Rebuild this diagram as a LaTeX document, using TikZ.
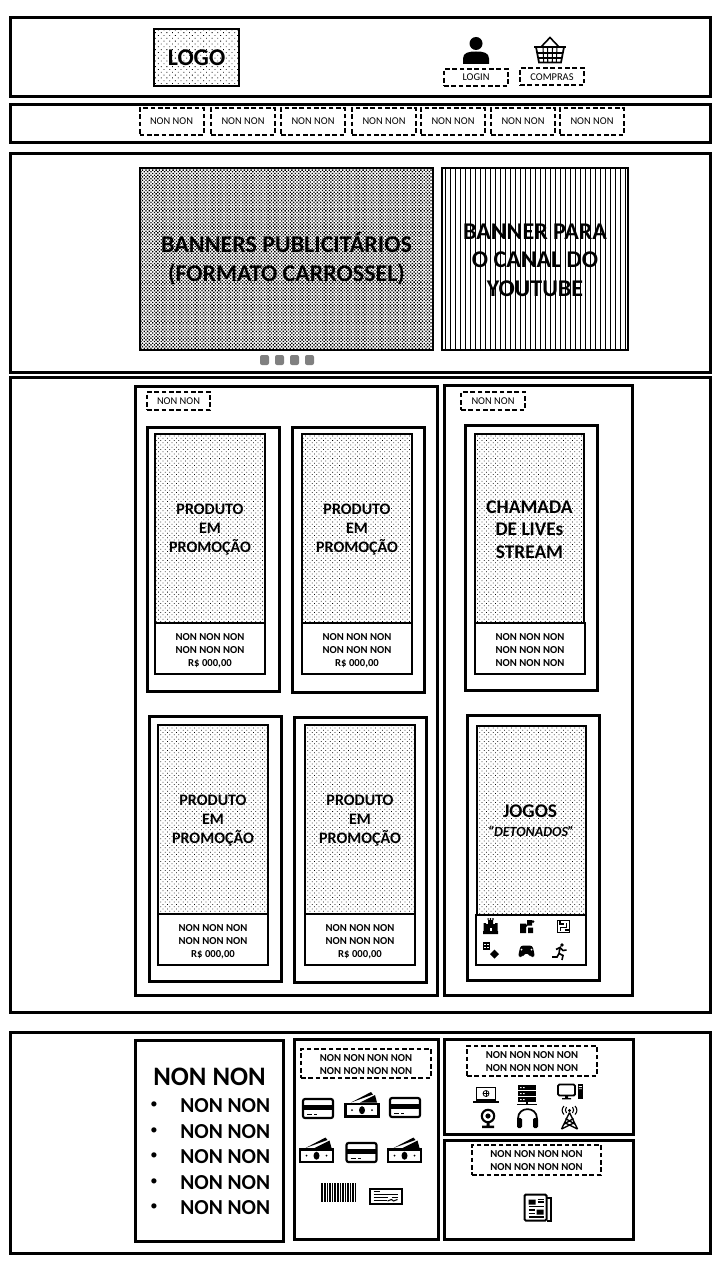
\documentclass[tikz,border=0pt]{standalone}
\usepackage{fontspec}
\setmainfont{Carlito}
\usetikzlibrary{patterns.meta}
\tikzset{
  size/.style 2 args={minimum width=#1*0.75pt, minimum height=#2*0.75pt},
  psize/.style 2 args={minimum width=(#1-1.5)*0.75pt, minimum height=(#2-1.5)*0.75pt},
  pics/person/.style={code={
    \fill (0,-7) circle (6.5);
    \fill (-13,13.5) -- (-13,8) .. controls (-13,2) and (-7,1) .. (0,1) .. controls (7,1) and (13,2) .. (13,8) -- (13,13.5) -- cycle;
  }},
  pics/basket/.style={code={
    \draw[line width=1.2pt] (-9,-3) -- (0,-12.5) -- (9,-3);
    \draw[line width=1.7pt] (-16,-3) -- (16,-3);
    \draw[line width=1.3pt] (-14,-3) -- (-11,12.5) -- (11,12.5) -- (14,-3);
    \draw[line width=.8pt] (-12.8,3) -- (12.8,3) (-11.8,8) -- (11.8,8);
    \foreach \gx in {-7,-2.5,2.5,7} \draw[line width=.8pt] (\gx,-3) -- (\gx*.9,12.5);
  }},
  pics/card/.style={code={
    \draw[line width=1.6pt, rounded corners=1.5pt] (-15,-9.5) rectangle (15,9.5);
    \fill[black] (-15,-4) rectangle (15,1.8);
    \draw[line width=.9pt] (-11,5.8) -- (-6,5.8) (-4,5.8) -- (-1,5.8);
  }},
  pics/bill/.style={code={
    \draw[line width=1.6pt] (-16.5,-1) rectangle (16.5,11.5);
    \fill (0,5.2) ellipse (3 and 4);
    \fill (-10,5.2) circle (1) (10,5.2) circle (1);
    \fill (-11,-2.5) -- (9,-13) -- (11,-10.5) -- cycle;
    \fill (-2,-2.5) -- (13,-10) -- (15,-2.5) -- cycle;
  }},
  pics/barcode/.style={code={
    \foreach \bx/\bw in {-17/2,-14/2,-11/1.2,-9/2,-6/1.2,-4/2,-1/2.2,2/1.2,4/2,7/1.2,9/2.2,12/1.2,14/2,16.5/1.5}
      \fill (\bx,-9.5) rectangle (\bx+\bw,9.5);
  }},
  pics/cheque/.style={code={
    \draw[line width=1.5pt] (-16,-7.5) rectangle (16,7.5);
    \draw[line width=.8pt] (-12,-4.5) -- (-6,-4.5) (-12,-1.5) -- (12,-1.5) (-12,1.5) -- (2,1.5) (-12,4.5) -- (1,4.5) (6,1.5) -- (12,1.5);
    \draw[line width=.8pt] (2,5) -- (6,3.5) -- (8,5) -- (12,3.5);
  }},
  pics/laptop/.style={code={
    \draw[line width=1.1pt] (-9.5,-7.5) rectangle (9.5,5);
    \draw[line width=.6pt] (0,-1.5) circle (3);
    \draw[line width=.4pt] (-3,-1.5) -- (3,-1.5) (0,-4.5) -- (0,1.5);
    \draw[line width=1.2pt] (-13,7.2) -- (13,7.2);
  }},
  pics/server/.style={code={
    \foreach \sy in {-10,-4,2} {
      \fill (-9,\sy) rectangle (9,\sy+5);
      \fill[white] (-7,\sy+2) rectangle (-5.5,\sy+3) (-4,\sy+2) rectangle (-2.5,\sy+3);
    }
    \draw[line width=.8pt] (0,7) -- (0,9.5) (-10,9.5) -- (10,9.5);
  }},
  pics/desktop/.style={code={
    \draw[line width=1.4pt, rounded corners=1pt] (-12,-7) rectangle (5,4);
    \fill (-5,4) rectangle (-2,6.5) (-8,6.5) rectangle (1,7.8);
    \fill (7.5,-7.5) rectangle (13,7.8);
    \fill[white] (8.8,-5.5) rectangle (11.8,-4.7) (8.8,-3.2) rectangle (11.8,-2.4);
  }},
  pics/webcam/.style={code={
    \draw[line width=1.6pt] (0,-2.5) circle (6.2);
    \fill (0,-2.5) circle (2.6);
    \fill (-1.5,3.5) rectangle (1.5,7) (-6,7) rectangle (6,9.5);
  }},
  pics/headset/.style={code={
    \draw[line width=1.3pt] (-9.5,5) -- (-9.5,0) .. controls (-9.5,-12.5) and (9.5,-12.5) .. (9.5,0) -- (9.5,5);
    \fill[rounded corners=1pt] (-10.5,-.5) rectangle (-5.5,9.5) (5.5,-.5) rectangle (10.5,9.5);
  }},
  pics/antenna/.style={code={
    \draw[line width=1pt] (0,-5) -- (-8,11.5) (0,-5) -- (8,11.5) (-6,7) -- (4,1) (6,7) -- (-4,1) (-8,11.5) -- (5,5) (8,11.5) -- (-5,5);
    \fill (0,-7) circle (1.6);
    \draw[line width=.8pt] (-3,-10.5) .. controls (-4.5,-9) and (-4.5,-6) .. (-3,-4.5) (3,-10.5) .. controls (4.5,-9) and (4.5,-6) .. (3,-4.5);
    \draw[line width=.8pt] (-5.5,-11.5) .. controls (-8,-9) and (-8,-5.5) .. (-5.5,-3) (5.5,-11.5) .. controls (8,-9) and (8,-5.5) .. (5.5,-3);
  }},
  pics/newspaper/.style={code={
    \draw[line width=1.5pt, rounded corners=1pt] (-13,-13) rectangle (9,13);
    \draw[line width=1.5pt] (9,-10) -- (13,-10) -- (13,13) -- (9,13);
    \fill (-9,-8) rectangle (-2,-3) (-1,2) rectangle (6,7);
    \draw[line width=.8pt] (0,-8) -- (6,-8) (0,-5.5) -- (6,-5.5) (-9,-1) -- (6,-1) (-9,2.5) -- (-3,2.5) (-9,6) -- (-3,6) (-9,9.5) -- (6,9.5);
  }},
  pics/castle/.style={code={
    \fill (-5,-2) rectangle (5,5) (-2.5,-6) rectangle (2.5,-2);
    \fill (-3,-8) rectangle (-1.8,-6) (-.6,-8) rectangle (.6,-6) (1.8,-8) rectangle (3,-6);
    \fill (-7,-3) rectangle (-4.5,7) (4.5,-3) rectangle (7,7) (-7.5,5) rectangle (7.5,8);
    \fill[white] (-1,2) rectangle (1,5);
  }},
  pics/puzzle/.style={code={
    \fill (-7,-3) rectangle (-1,6.5) (1,1) rectangle (6,6.5) (0,-6.5) rectangle (5,-1);
    \fill (-1,-1) circle (1.5) (6,-5) circle (1.5);
  }},
  pics/maze/.style={code={
    \draw[line width=.9pt] (-6,-6) rectangle (6,6);
    \draw[line width=.8pt] (-3.5,-6) -- (-3.5,-2.5) -- (0,-2.5) (3,-3.5) -- (3,1) -- (-3,1) -- (-3,4) (1,3.5) -- (6,3.5);
  }},
  pics/dice/.style={code={
    \draw[line width=.8pt] (-7.5,-7.5) rectangle (-1.5,-1.5) (-7.5,-4.5) -- (-1.5,-4.5) (-4.5,-7.5) -- (-4.5,-1.5);
    \fill (3.5,-1) -- (8,3.5) -- (3.5,8) -- (-1,3.5) -- cycle;
  }},
  pics/gamepad/.style={code={
    \fill[rounded corners=2pt] (-8.5,6) -- (-6,-5.5) -- (6,-5.5) -- (8.5,6) -- (4,6) -- (2,2.5) -- (-2,2.5) -- (-4,6) -- cycle;
    \fill[white] (-5,-1.5) circle (1) (5,-1.5) circle (1);
  }},
  pics/runner/.style={code={
    \fill (2,-6.5) circle (1.8);
    \draw[line width=1.2pt] (-4,-2) -- (0,-4) -- (-1,2) -- (3,4) -- (2,8.5) (-1,2) -- (-3,5.5) -- (-8,5.5) (0,-4) -- (3,-1) -- (6.5,-1.5);
  }}
}
\begin{document}
\begin{tikzpicture}[
  x=0.75pt, y=-0.75pt,
  panel/.style={draw=black, line width=2.25pt, inner sep=0pt},
  imgbox/.style={draw=black, line width=1.5pt, inner sep=0pt, align=center},
  dashbox/.style={draw=black, line width=1.5pt, dash pattern=on 3.5pt off 2pt, inner sep=0pt, align=center},
  txt/.style={inner sep=0pt, align=center},
  dotfill/.style={pattern={Dots[distance=2.4pt, angle=45, radius=.4pt]}},
  logofill/.style={pattern={Dots[distance=3pt, angle=45, radius=.45pt]}},
  gridfill/.style={pattern={Dots[distance=1.8pt, angle=45, radius=.72pt]}},
  linefill/.style={pattern={Lines[angle=90, distance=3.75pt, line width=.7pt]}},
  tiny/.style={font=\fontsize{7.8}{9.75}\selectfont},
  small/.style={font=\fontsize{8}{9.75}\selectfont\bfseries},
  head/.style={font=\fontsize{12}{14.25}\selectfont\bfseries},
  big/.style={font=\fontsize{14.5}{17}\selectfont\bfseries},
  huge/.style={font=\fontsize{18}{21.5}\selectfont\bfseries}
]
  \useasboundingbox (0,0) rectangle (720,1280);

  % header
  \node[panel, psize={701}{80}] (header) at (360.5,57) {};
  \node[imgbox, logofill, huge, size={85}{57}] (logo) at (196.5,57.5) {LOGO};
  \pic at (476,50.5) {person};
  \pic at (550,50) {basket};
  \node[dashbox, tiny, size={64}{17}] (login) at (476,77.5) {LOGIN};
  \node[dashbox, tiny, size={64}{17}] (compras) at (552,77) {COMPRAS};

  % menu
  \node[panel, psize={701}{39}] (menu) at (360.5,123.5) {};
  \foreach \cx [count=\i] in {171.5,243,313,384,453,523,592}
    \node[dashbox, tiny, size={64}{27}] (menu\i) at (\cx,121.5) {NON NON};

  % banners
  \node[panel, psize={701}{220}] (banners) at (360.5,263) {};
  \node[imgbox, gridfill, huge, size={293}{182}] (carrossel) at (286.5,259) {BANNERS PUBLICIT\'ARIOS\\(FORMATO CARROSSEL)};
  \node[imgbox, linefill, size={186}{182}] (youtube) at (535,259) {};
  \node[txt, huge] (youtubetext) at (535,260) {BANNER PARA\\O CANAL DO\\YOUTUBE};
  \foreach \cx [count=\i] in {264.5,279.5,294.5,309.5}
    \node[fill=black!50, rounded corners=1.5pt, size={9}{10}, inner sep=0pt] (dot\i) at (\cx,360) {};

  % produtos
  \node[panel, psize={701}{636}] (main) at (360.5,695) {};
  \node[panel, psize={303}{610}] (promo) at (286.5,691) {};
  \node[panel, psize={189}{611}] (lives) at (538.5,690.5) {};
  \node[dashbox, tiny, size={63}{18}] (promotag) at (178.5,401) {NON NON};
  \node[dashbox, tiny, size={64}{18}] (livestag) at (493,401) {NON NON};

  \foreach \n/\cardx/\cardy/\imgx/\imgy in {a/213.5/559.5/210/528.5, b/358.5/560/357/528.5, c/215.5/849/213/819.5, d/360.5/850/360/819.5} {
    \node[panel, psize={133}{266}] (card\n) at (\cardx,\cardy) {};
    \node[imgbox, dotfill, size={110}{189}] (img\n) at (\imgx,\imgy) {};
    \node[txt, head] (imgtext\n) at (\imgx,\imgy+1.5) {PRODUTO\\EM\\PROMO\c{C}\~AO};
    \node[imgbox, fill=white, size={110}{51}] (cap\n) at (\imgx,\imgy+120) {};
    \node[txt, small] (captext\n) at (\imgx,\imgy+122) {NON NON NON\\NON NON NON\\R\$ 000,00};
  }

  \node[panel, psize={133}{266}] (cardlive) at (531.5,558) {};
  \node[imgbox, dotfill, size={109}{189}] (imglive) at (529.5,528.5) {};
  \node[txt, big] (imglivetext) at (529.5,529.5) {CHAMADA\\DE LIVEs\\STREAM};
  \node[imgbox, fill=white, size={110}{51}] (caplive) at (530,648.5) {};
  \node[txt, small] (caplivetext) at (530,650.5) {NON NON NON\\NON NON NON\\NON NON NON};

  \node[panel, psize={133}{266}] (cardgame) at (533.5,848) {};
  \node[imgbox, dotfill, size={109}{189}] (imggame) at (531.5,820.5) {};
  \node[txt, big] (jogos) at (530,811) {JOGOS};
  \node[txt, font=\fontsize{10.5}{12}\selectfont\bfseries\itshape] (detonados) at (531,831) {``DETONADOS''};
  \node[imgbox, fill=white, size={110}{50}] (capgame) at (531,940) {};
  \pic at (490.5,926) {castle};
  \pic at (527,926.5) {puzzle};
  \pic at (563.5,926.5) {maze};
  \pic at (491,950.5) {dice};
  \pic at (526.5,951) {gamepad};
  \pic at (560,951.5) {runner};

  % rodape
  \node[panel, psize={701}{222}] (footer) at (360.5,1143) {};
  \node[panel, psize={149}{202}] (lista) at (209.5,1141) {};
  \node[panel, psize={145}{201}] (pagamento) at (366.5,1139.5) {};
  \node[panel, psize={190}{96}] (suporte) at (539,1087) {};
  \node[panel, psize={190}{100}] (noticias) at (539,1190) {};

  \node[font=\fontsize{20}{24}\selectfont\bfseries] (listatitle) at (209.5,1077) {NON NON};
  \foreach \cy [count=\i] in {1105,1131,1156,1182,1207} {
    \node[font=\fontsize{16}{19}\selectfont\bfseries, anchor=west, inner sep=0pt] (item\i) at (180,\cy+1) {NON NON};
    \node[font=\fontsize{11}{13}\selectfont, inner sep=0pt] (bullet\i) at (154,\cy) {\textbullet};
  }

  \node[dashbox, size={130}{29}] (pagtag) at (366,1063.5) {};
  \node[txt, small] (pagtext) at (366,1064.5) {NON NON NON NON\\NON NON NON NON};
  \pic at (318,1108.5) {card};
  \pic at (362,1105) {bill};
  \pic at (405,1107.5) {card};
  \pic at (316.5,1150.5) {bill};
  \pic at (361.5,1152.5) {card};
  \pic at (404.5,1150.5) {bill};
  \pic at (338,1192.5) {barcode};
  \pic at (385.5,1196) {cheque};

  \node[dashbox, size={130}{30}] (suptag) at (532,1061) {};
  \node[txt, small] (suptext) at (532,1062) {NON NON NON NON\\NON NON NON NON};
  \pic at (486,1095) {laptop};
  \pic at (527,1095) {server};
  \pic at (570,1091.5) {desktop};
  \pic at (488,1118.5) {webcam};
  \pic at (527.5,1118.5) {headset};
  \pic at (569.5,1117.5) {antenna};

  \node[dashbox, size={129}{30}] (nottag) at (536.5,1160) {};
  \node[txt, small] (nottext) at (536.5,1161) {NON NON NON NON\\NON NON NON NON};
  \pic at (537.5,1207.5) {newspaper};
\end{tikzpicture}
\end{document}
